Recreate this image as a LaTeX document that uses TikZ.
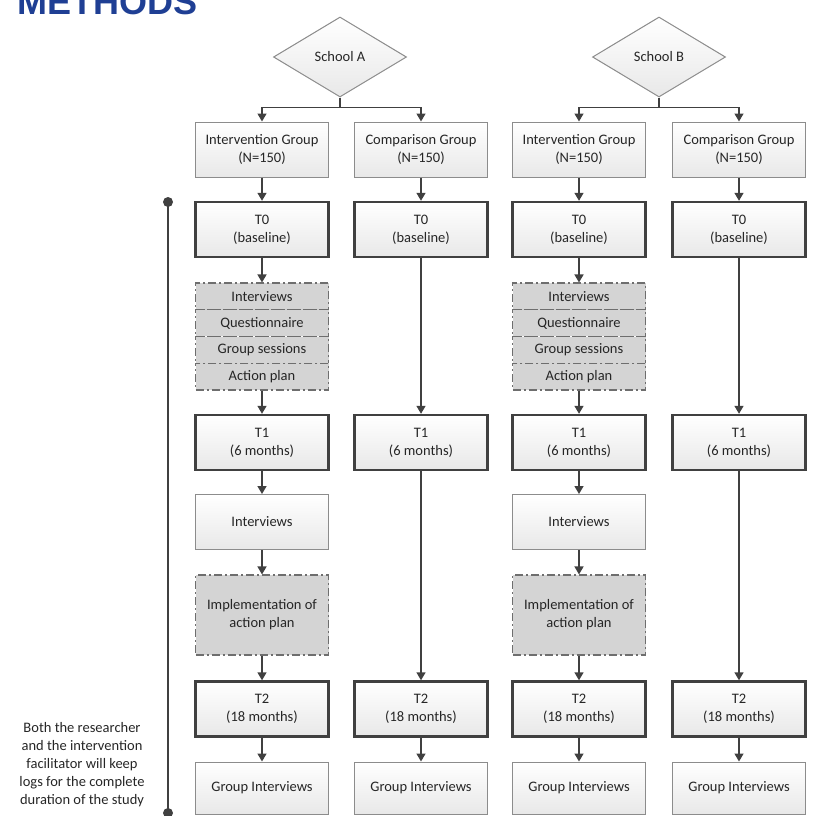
\documentclass[tikz,border=0pt]{standalone}
\usepackage{fontspec}
\setmainfont{Carlito}
\newfontfamily\titlefont{Liberation Sans}
\usepackage{xcolor}
\usetikzlibrary{shapes.geometric,arrows.meta,positioning}

\definecolor{linegray}{HTML}{404040}
\definecolor{thingray}{HTML}{8C8C8C}
\definecolor{dashgray}{HTML}{6E6E6E}
\definecolor{boxfill}{HTML}{E8E8E8}
\definecolor{dashfill}{HTML}{D4D4D4}
\definecolor{titleblue}{HTML}{1F3F94}

\tikzset{
  txt/.style={font=\fontsize{14.5}{18}\selectfont, text=black!85, align=center, inner sep=0pt},
  plainbox/.style={txt, draw=thingray, line width=1pt, top color=white, bottom color=boxfill, minimum width=133pt, minimum height=55pt},
  timebox/.style={plainbox, draw=linegray, line width=2.4pt},
  actbox/.style={txt, draw=dashgray, line width=1.1pt, fill=dashfill, dash pattern=on 8pt off 3pt on 2pt off 3pt, minimum width=133pt},
  school/.style={txt, diamond, draw=thingray, line width=1pt, top color=white, bottom color=boxfill, minimum width=133pt, minimum height=80pt},
  conn/.style={draw=linegray, line width=1.4pt, -{Triangle[width=9pt,length=8pt]}},
}

\begin{document}
\begin{tikzpicture}[x=1pt, y=-1pt]

\useasboundingbox (0,0) rectangle (818,815);
\clip (0,0) rectangle (818,815);

% Title (cut at the top edge)
\node[font=\titlefont\bfseries\fontsize{36}{36}\selectfont, text=titleblue, anchor=base west, inner sep=0pt] (title) at (17,14) {METHODS};

% Schools
\node[school] (schoolA) at (340,57) {School A};
\node[school] (schoolB) at (659,57) {School B};

% School A - intervention group
\node[plainbox] (ia_grp) at (262,149.5) {Intervention Group\\(N=150)};
\node[timebox] (ia_t0) at (262,229.5) {T0\\(baseline)};
\node[actbox, minimum height=26.75pt] (ia_int) at (262,296.4) {Interviews};
\node[actbox, minimum height=26.75pt] (ia_que) at (262,323.1) {Questionnaire};
\node[actbox, minimum height=26.75pt] (ia_ses) at (262,349.9) {Group sessions};
\node[actbox, minimum height=26.75pt] (ia_act) at (262,376.6) {Action plan};
\node[timebox] (ia_t1) at (262,442.5) {T1\\(6 months)};
\node[plainbox] (ia_iv) at (262,522) {Interviews};
\node[actbox, minimum height=80pt] (ia_imp) at (262,615) {Implementation of\\action plan};
\node[timebox] (ia_t2) at (262,709) {T2\\(18 months)};
\node[plainbox, minimum height=52pt] (ia_gi) at (262,788) {Group Interviews};

% School A - comparison group
\node[plainbox] (ca_grp) at (421,149.5) {Comparison Group\\(N=150)};
\node[timebox] (ca_t0) at (421,229.5) {T0\\(baseline)};
\node[timebox] (ca_t1) at (421,442.5) {T1\\(6 months)};
\node[timebox] (ca_t2) at (421,709) {T2\\(18 months)};
\node[plainbox, minimum height=52pt] (ca_gi) at (421,788) {Group Interviews};

% School B - intervention group
\node[plainbox] (ib_grp) at (579,149.5) {Intervention Group\\(N=150)};
\node[timebox] (ib_t0) at (579,229.5) {T0\\(baseline)};
\node[actbox, minimum height=26.75pt] (ib_int) at (579,296.4) {Interviews};
\node[actbox, minimum height=26.75pt] (ib_que) at (579,323.1) {Questionnaire};
\node[actbox, minimum height=26.75pt] (ib_ses) at (579,349.9) {Group sessions};
\node[actbox, minimum height=26.75pt] (ib_act) at (579,376.6) {Action plan};
\node[timebox] (ib_t1) at (579,442.5) {T1\\(6 months)};
\node[plainbox] (ib_iv) at (579,522) {Interviews};
\node[actbox, minimum height=80pt] (ib_imp) at (579,615) {Implementation of\\action plan};
\node[timebox] (ib_t2) at (579,709) {T2\\(18 months)};
\node[plainbox, minimum height=52pt] (ib_gi) at (579,788) {Group Interviews};

% School B - comparison group
\node[plainbox] (cb_grp) at (739,149.5) {Comparison Group\\(N=150)};
\node[timebox] (cb_t0) at (739,229.5) {T0\\(baseline)};
\node[timebox] (cb_t1) at (739,442.5) {T1\\(6 months)};
\node[timebox] (cb_t2) at (739,709) {T2\\(18 months)};
\node[plainbox, minimum height=52pt] (cb_gi) at (739,788) {Group Interviews};

% Branches
\draw[conn] (schoolA.south) -- ++(0,10) -| (ia_grp.north);
\draw[conn] (schoolA.south) -- ++(0,10) -| (ca_grp.north);
\draw[conn] (schoolB.south) -- ++(0,10) -| (ib_grp.north);
\draw[conn] (schoolB.south) -- ++(0,10) -| (cb_grp.north);

% Intervention arrows
\draw[conn] (ia_grp) -- (ia_t0);
\draw[conn] (ia_t0) -- (ia_int);
\draw[conn] (ia_act) -- (ia_t1);
\draw[conn] (ia_t1) -- (ia_iv);
\draw[conn] (ia_iv) -- (ia_imp);
\draw[conn] (ia_imp) -- (ia_t2);
\draw[conn] (ia_t2) -- (ia_gi);
\draw[conn] (ib_grp) -- (ib_t0);
\draw[conn] (ib_t0) -- (ib_int);
\draw[conn] (ib_act) -- (ib_t1);
\draw[conn] (ib_t1) -- (ib_iv);
\draw[conn] (ib_iv) -- (ib_imp);
\draw[conn] (ib_imp) -- (ib_t2);
\draw[conn] (ib_t2) -- (ib_gi);

% Comparison arrows
\draw[conn] (ca_grp) -- (ca_t0);
\draw[conn] (ca_t0) -- (ca_t1);
\draw[conn] (ca_t1) -- (ca_t2);
\draw[conn] (ca_t2) -- (ca_gi);
\draw[conn] (cb_grp) -- (cb_t0);
\draw[conn] (cb_t0) -- (cb_t1);
\draw[conn] (cb_t1) -- (cb_t2);
\draw[conn] (cb_t2) -- (cb_gi);

% Timeline
\coordinate (tl_top) at (168,202);
\coordinate (tl_bot) at (168,813);
\draw[linegray, line width=2.5pt] (tl_top) -- (tl_bot);
\fill[linegray] (tl_top) circle (5pt);
\fill[linegray] (tl_bot) circle (5pt);
\node[txt] (logs) at (82,765) {Both the researcher\\and the intervention\\facilitator will keep\\logs for the complete\\duration of the study};

\end{tikzpicture}
\end{document}
